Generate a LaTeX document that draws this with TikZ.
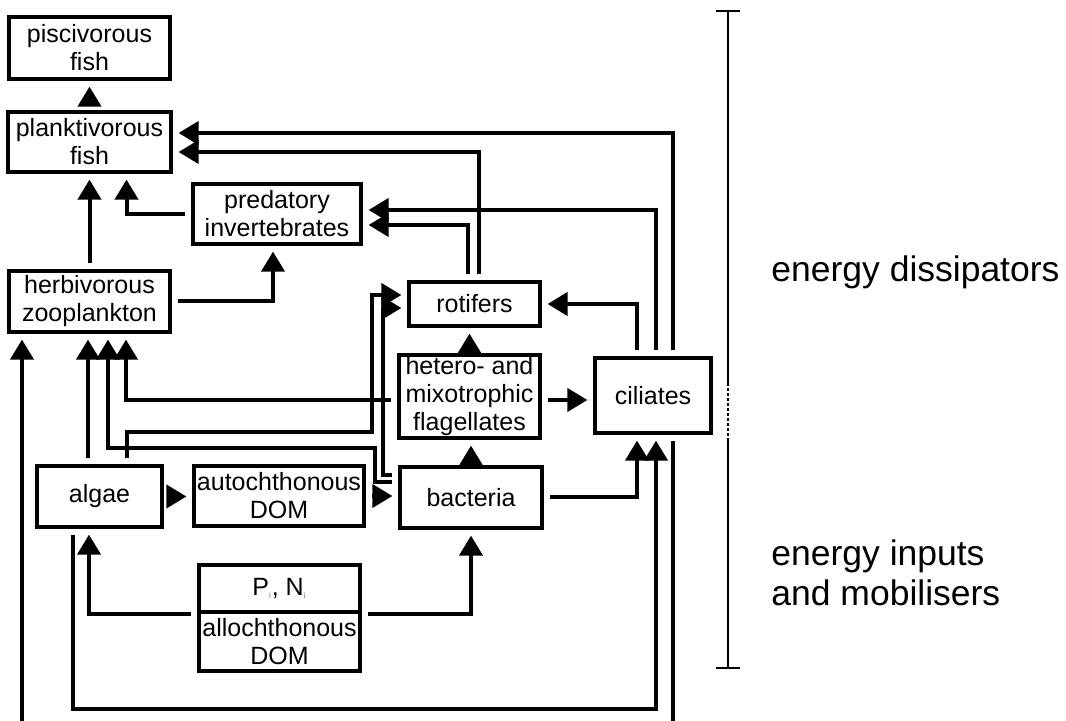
\documentclass[tikz,border=0pt]{standalone}
\usepackage{fontspec}
\setmainfont{Liberation Sans}
\usetikzlibrary{arrows.meta, calc}
\def\gap{3pt}
\newcommand{\boxfont}{\fontsize{12.5pt}{14pt}\selectfont}
\newcommand{\sidefont}{\fontsize{17.75pt}{20pt}\selectfont}
\newcommand{\tinysub}[1]{\textsubscript{\fontsize{4pt}{4pt}\selectfont\color{black!55}#1}}

\begin{document}
\begin{tikzpicture}[
    x=0.5pt, y=-0.5pt,
    >={Triangle[length=10pt,width=11.5pt]},
    box/.style={draw, line width=1.6pt, inner sep=0pt, align=center, font=\boxfont},
    flow/.style={->, line width=2pt, shorten <=\gap, shorten >=\gap},
    link/.style={line width=2pt, shorten <=\gap},
    bracket/.style={line width=0.9pt},
    side/.style={anchor=west, align=left, inner sep=0pt, font=\sidefont}
]
\useasboundingbox (0,0) rectangle (1066,721);

% compartments
\node[box, minimum width=80.5pt, minimum height=31pt] (pisc) at (89.5,48) {piscivorous\\fish};
\node[box, minimum width=81.5pt, minimum height=30pt] (plankt) at (89.5,142) {planktivorous\\fish};
\node[box, minimum width=84pt, minimum height=30pt] (pred) at (277,214) {predatory\\invertebrates};
\node[box, minimum width=80.5pt, minimum height=30.5pt] (herb) at (89.5,301.5) {herbivorous\\zooplankton};
\node[box, minimum width=65.5pt, minimum height=22pt] (rot) at (474.5,304) {rotifers};
\node[box, minimum width=70.5pt, minimum height=41.5pt] (flag) at (469.5,396.5) {hetero- and\\mixotrophic\\flagellates};
\node[box, minimum width=58pt, minimum height=37.5pt] (cil) at (653,395.5) {ciliates};
\node[box, minimum width=62.5pt, minimum height=30.5pt] (algae) at (99.5,496.5) {algae};
\node[box, minimum width=85pt, minimum height=30pt] (autoch) at (279,496) {autochthonous\\DOM};
\node[box, minimum width=71pt, minimum height=30.5pt] (bact) at (471,497.5) {bacteria};
\node[box, minimum width=80.5pt, minimum height=23.5pt] (nut) at (279.5,588.5) {P\tinysub{i}, N\tinysub{i}};
\node[box, minimum width=80.5pt, minimum height=29.5pt] (allo) at (279.5,641.5) {allochthonous\\DOM};

% side labels
\node[side] (diss) at (771,272) {energy dissipators};
\node[side] (inp) at (771,573) {energy inputs\\and mobilisers};
\draw[bracket] (716,11) -- (740,11) (728,11) -- (728,383)
    (728,440) -- (728,668) (716,668) -- (740,668);
\draw[bracket, line width=1.3pt, dash pattern=on 1.5pt off 1pt] (728,383) -- (728,440);

% fish and invertebrates
\draw[flow] (plankt.north) -- (pisc.south);
\draw[flow] (herb.north) -- (plankt.south);
\draw[flow] (pred.west) -| ($(plankt.south)+(37,0)$);
\draw[flow] (herb.east) -| ($(pred.south)+(-4,0)$);
\draw[flow] ($(rot.north)+(4.5,0)$) |- ($(plankt.east)+(0,10)$);
\draw[flow] ($(rot.north)+(-6.5,0)$) |- ($(pred.east)+(0,11)$);
\draw[flow] ($(cil.north)+(20,0)$) |- ($(plankt.east)+(0,-9)$);
\draw[flow] ($(cil.north)+(3,0)$) |- ($(pred.east)+(0,-4)$);
\draw[flow] ($(cil.north)+(-16,0)$) |- (rot.east);

% microbial loop
\draw[flow] (flag.north) -- (flag.north |- rot.south);
\draw[flow] (bact.north) -- (bact.north |- flag.south);
\draw[flow] ($(flag.east)+(0,3.5)$) coordinate (f1) -- (f1 -| cil.west);
\draw[flow] ($(flag.west)+(0,3.5)$) -| ($(herb.south)+(36.5,0)$);
\draw[flow] (bact.east) -| ($(cil.south)+(-16,0)$);
\draw[flow] ($(bact.west)+(0,-22.5)$) -| (383,308) -- ($(rot.west)+(0,4)$);
\draw[flow] ($(bact.west)+(0,-15.5)$) -| (375,448) -| ($(herb.south)+(18.5,0)$);

% algae
\draw[flow] ($(algae.north)+(-11.5,0)$) coordinate (a1) -- (a1 |- herb.south);
\draw[flow] ($(algae.north)+(27.5,0)$) |- (372,432) |- ($(rot.west)+(0,-9)$);
\draw[flow] (algae.east) -- (algae.east -| autoch.west);
\draw[flow] (autoch.east) -- (autoch.east -| bact.west);
\draw[flow] ($(algae.south)+(-26.5,0)$) -- ++(0,180) -| ($(cil.south)+(3,0)$);

% nutrients and allochthonous DOM
\draw[flow] (nut.south west) -| ($(algae.south)+(-10.5,0)$);
\draw[flow] (nut.south east) -| (bact.south);

% ciliates back to herbivores, below the lower edge
\coordinate (low) at (0,730);
\coordinate (offleft) at (22,730);
\draw[link] ($(cil.south)+(20,0)$) coordinate (c1) -- (c1 |- low);
\draw[flow] (offleft) -- (offleft |- herb.south);
\end{tikzpicture}
\end{document}
